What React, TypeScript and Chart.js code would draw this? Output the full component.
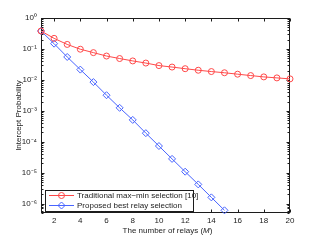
import React, { useEffect, useRef } from 'react';
import { Chart, registerables } from 'chart.js';

Chart.register(...registerables);

// ---- data ----
const relays = [1, 2, 3, 4, 5, 6, 7, 8, 9, 10, 11, 12, 13, 14, 15, 16, 17, 18, 19, 20];
const traditional = [
  0.38, 0.22, 0.14, 0.098, 0.076, 0.059, 0.049, 0.041, 0.035, 0.029,
  0.026, 0.023, 0.0205, 0.0186, 0.017, 0.0153, 0.0138, 0.0125, 0.0116, 0.0108,
];
const proposed = [
  0.38, 0.148, 0.055, 0.0215, 0.0085, 0.0032, 0.00125, 5.1e-4, 1.9e-4, 7.3e-5,
  2.8e-5, 1.08e-5, 4.2e-6, 1.6e-6, 6.1e-7,
];
const xTickValues = [2, 4, 6, 8, 10, 12, 14, 16, 18, 20];
const yMajorTicks = [1e-6, 1e-5, 1e-4, 1e-3, 1e-2, 1e-1, 1];
const yMinorMultipliers = [2, 3, 4, 5, 6, 7, 8, 9];
const yMin = 5e-7;
const yMax = 1;
const xMin = 1;
const xMax = 20;
const legendLabels = ['Traditional max\u2212min selection [10]', 'Proposed best relay selection'];
const yTitle = 'Intercept Probability';
const xTitleParts = ['The number of relays (', 'M', ')'];

const RED = 'rgb(255,72,72)';
const BLUE = 'rgb(72,100,255)';
const INK = '#1c1c1c';
const FONT_FAMILY = '"Liberation Sans", Arial, Helvetica, sans-serif';

const SUP: Record<string, string> = {
  '0': '\u2070', '1': '\u00b9', '2': '\u00b2', '3': '\u00b3', '4': '\u2074',
  '5': '\u2075', '6': '\u2076', '7': '\u2077', '8': '\u2078', '9': '\u2079', '-': '\u207b',
};
const sup = (n: number) => String(n).split('').map((c) => SUP[c] ?? c).join('');
const isPow10 = (v: number) => {
  const l = Math.log10(v);
  return Math.abs(l - Math.round(l)) < 1e-9;
};

function drawDiamond(ctx: CanvasRenderingContext2D, x: number, y: number, r: number) {
  ctx.beginPath();
  ctx.moveTo(x, y - r);
  ctx.lineTo(x + r, y);
  ctx.lineTo(x, y + r);
  ctx.lineTo(x - r, y);
  ctx.closePath();
  ctx.stroke();
}

const framePlugin = {
  id: 'matlabFrame',
  beforeDatasetsDraw(chart: any) {
    const { ctx, chartArea, scales } = chart;
    const { left, right, top, bottom } = chartArea;
    const L = Math.round(left) + 0.5;
    const R = Math.round(right) - 0.5;
    const T = Math.round(top) + 0.5;
    const B = Math.round(bottom) - 0.5;
    ctx.save();
    ctx.strokeStyle = INK;
    ctx.lineWidth = 1;
    ctx.strokeRect(L, T, R - L, B - T);
    ctx.beginPath();
    // y ticks (inward, both sides)
    const yScale = scales.y;
    const yTickList: { v: number; len: number }[] = [];
    yMajorTicks.forEach((m) => {
      yTickList.push({ v: m, len: 3 });
      yMinorMultipliers.forEach((k) => yTickList.push({ v: (m / 10) * k, len: 2 }));
    });
    yTickList.forEach(({ v, len }) => {
      if (v < yMin || v > yMax) return;
      const py = Math.round(yScale.getPixelForValue(v)) + 0.5;
      ctx.moveTo(L, py);
      ctx.lineTo(L + len, py);
      ctx.moveTo(R, py);
      ctx.lineTo(R - len, py);
    });
    // x ticks
    const xScale = scales.x;
    xTickValues.forEach((v) => {
      const px = Math.round(xScale.getPixelForValue(v)) + 0.5;
      ctx.moveTo(px, B);
      ctx.lineTo(px, B - 3);
      ctx.moveTo(px, T);
      ctx.lineTo(px, T + 3);
    });
    ctx.stroke();
    ctx.restore();
  },
  afterDraw(chart: any) {
    const { ctx, chartArea } = chart;
    const { left, right, top, bottom } = chartArea;
    ctx.save();
    ctx.fillStyle = INK;
    ctx.textBaseline = 'middle';

    // y title
    ctx.font = `8px ${FONT_FAMILY}`;
    ctx.save();
    ctx.translate(19, (top + bottom) / 2);
    ctx.rotate(-Math.PI / 2);
    ctx.textAlign = 'center';
    ctx.fillText(yTitle, 0, 0);
    ctx.restore();

    // x title with italic M
    const normal = `8px ${FONT_FAMILY}`;
    const italic = `italic 8px ${FONT_FAMILY}`;
    ctx.font = normal;
    const w0 = ctx.measureText(xTitleParts[0]).width;
    const w2 = ctx.measureText(xTitleParts[2]).width;
    ctx.font = italic;
    const w1 = ctx.measureText(xTitleParts[1]).width;
    let x = (left + right) / 2 - (w0 + w1 + w2) / 2 + 2;
    const ty = 231;
    ctx.textAlign = 'left';
    ctx.font = normal;
    ctx.fillText(xTitleParts[0], x, ty);
    x += w0;
    ctx.font = italic;
    ctx.fillText(xTitleParts[1], x, ty);
    x += w1;
    ctx.font = normal;
    ctx.fillText(xTitleParts[2], x, ty);

    // legend
    const bx = 45.5, by = 190.5, bw = 148, bh = 21;
    ctx.fillStyle = '#ffffff';
    ctx.fillRect(bx, by, bw, bh);
    ctx.strokeStyle = INK;
    ctx.lineWidth = 1;
    ctx.strokeRect(bx, by, bw, bh);
    const rows = [
      { y: 195.5, color: RED, label: legendLabels[0], marker: 'circle' },
      { y: 205.5, color: BLUE, label: legendLabels[1], marker: 'diamond' },
    ];
    rows.forEach((r) => {
      ctx.strokeStyle = r.color;
      ctx.lineWidth = 1;
      ctx.beginPath();
      ctx.moveTo(49, r.y);
      ctx.lineTo(74, r.y);
      ctx.stroke();
      if (r.marker === 'circle') {
        ctx.beginPath();
        ctx.arc(61.5, r.y, 3, 0, Math.PI * 2);
        ctx.stroke();
      } else {
        drawDiamond(ctx, 61.5, r.y, 3.5);
      }
      ctx.fillStyle = INK;
      ctx.font = `8px ${FONT_FAMILY}`;
      ctx.textAlign = 'left';
      ctx.fillText(r.label, 77, r.y);
    });
    ctx.restore();
  },
};

export default function App() {
  const canvasRef = useRef<HTMLCanvasElement | null>(null);

  useEffect(() => {
    const canvas = canvasRef.current;
    if (!canvas) return;
    const tickFont = { family: FONT_FAMILY, size: 8 };
    const chart = new Chart(canvas, {
      type: 'line',
      data: {
        datasets: [
          {
            label: legendLabels[0],
            data: relays.map((m, i) => ({ x: m, y: traditional[i] })),
            borderColor: RED,
            backgroundColor: 'rgba(0,0,0,0)',
            borderWidth: 1,
            pointStyle: 'circle',
            pointRadius: 3,
            pointBorderWidth: 1,
            pointBorderColor: RED,
            pointBackgroundColor: 'rgba(0,0,0,0)',
            tension: 0,
            clip: false as any,
          },
          {
            label: legendLabels[1],
            data: proposed.map((v, i) => ({ x: relays[i], y: v })),
            borderColor: BLUE,
            backgroundColor: 'rgba(0,0,0,0)',
            borderWidth: 1,
            pointStyle: 'rectRot',
            pointRadius: 3.5,
            pointBorderWidth: 1,
            pointBorderColor: BLUE,
            pointBackgroundColor: 'rgba(0,0,0,0)',
            tension: 0,
            clip: false as any,
          },
        ],
      },
      options: {
        animation: false,
        responsive: false,
        devicePixelRatio: 1,
        events: [],
        layout: { padding: { top: 18, right: 31, left: 0, bottom: 0 } },
        plugins: { legend: { display: false }, tooltip: { enabled: false } },
        scales: {
          x: {
            type: 'linear',
            min: xMin,
            max: xMax,
            afterBuildTicks: (s: any) => {
              s.ticks = xTickValues.map((v) => ({ value: v }));
            },
            afterFit: (s: any) => {
              s.height = 29;
            },
            grid: { display: false, drawTicks: false },
            border: { display: false },
            ticks: {
              autoSkip: false,
              maxRotation: 0,
              padding: 3,
              color: INK,
              font: tickFont,
              callback: (v: any) => String(v),
            },
          },
          y: {
            type: 'logarithmic',
            min: yMin,
            max: yMax,
            afterBuildTicks: (s: any) => {
              s.ticks = yMajorTicks.map((v) => ({ value: v, major: true }));
            },
            afterFit: (s: any) => {
              s.width = 41;
            },
            grid: { display: false, drawTicks: false },
            border: { display: false },
            ticks: {
              autoSkip: false,
              padding: 4,
              color: INK,
              font: tickFont,
              callback: (v: any) => {
                const n = Number(v);
                if (!isPow10(n)) return '';
                return '10' + sup(Math.round(Math.log10(n)));
              },
            },
          },
        },
      },
      plugins: [framePlugin],
    } as any);
    return () => chart.destroy();
  }, []);

  return (
    <div style={{ position: 'fixed', left: 0, top: 0, width: 321, height: 242, background: '#fff' }}>
      <canvas ref={canvasRef} width={321} height={242} style={{ display: 'block' }} />
    </div>
  );
}
